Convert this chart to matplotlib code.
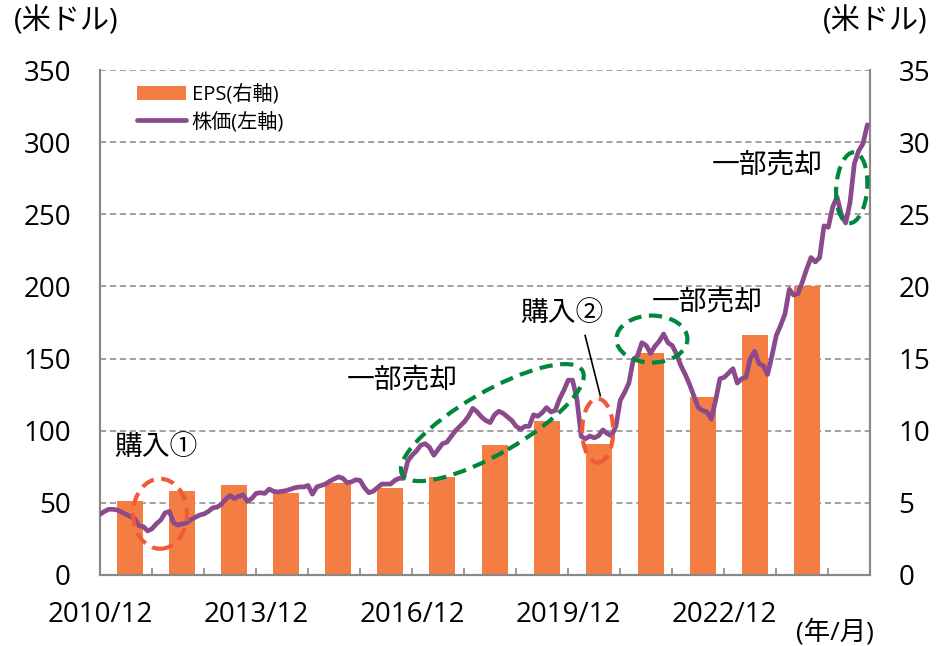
import matplotlib
matplotlib.use("Agg")
import matplotlib.pyplot as plt
from matplotlib.patches import Ellipse
from matplotlib.transforms import ScaledTranslation
import numpy as np

plt.rcParams['font.family'] = ['Open Sans', 'Noto Sans CJK JP', 'DejaVu Sans']

# --- data ---
# monthly share price (US$), 2010/12 .. 2025/09
price = [
    42, 44, 45.5, 45.5, 45, 43.5, 42, 40.5, 39, 34, 33.5, 30.5,
    32, 35.5, 38, 43, 44, 36, 34.5, 35.4, 36, 38.5, 40, 41.5,
    42.3, 44, 46.5, 47, 49, 52.5, 55, 53, 54.5, 55.5, 51, 53,
    56.5, 57, 56.5, 59.5, 58, 57.5, 58, 58.5, 59.5, 60.5, 61, 61,
    62, 56, 61, 62, 63, 65, 66.5, 68, 67, 64, 64.5, 66,
    65.5, 60.5, 57, 58, 60.5, 63, 63, 63, 65.5, 67, 67, 79,
    83, 86, 90, 91, 88.5, 83, 87, 91, 92, 96, 100, 103,
    106, 110, 115.5, 113, 109.5, 107, 105.6, 111, 113.5, 112, 109.5, 107,
    103, 101, 103, 103, 111, 110, 112.5, 116, 113, 114, 122, 128,
    135, 135, 122, 96, 94.4, 96.3, 95, 96.5, 100.5, 98, 96.5, 103,
    121, 126.5, 133, 149, 152, 161, 159, 153.5, 158.5, 162, 167, 161,
    159, 153, 145, 139, 132, 124, 116, 114, 113, 108, 121, 136,
    137, 140, 143, 133, 136, 137, 150, 155, 146.5, 145, 139, 152,
    166, 173, 181, 198, 194, 195, 203, 212, 220, 217, 220, 242,
    241, 255, 262, 250, 244, 258, 285, 294, 299, 312,
]
price_month = np.arange(len(price))  # months since 2010/12

eps_years = [2011, 2012, 2013, 2014, 2015, 2016, 2017,
             2018, 2019, 2020, 2021, 2022, 2023, 2024]
eps = [5.1, 5.8, 6.2, 5.7, 6.4, 6.0, 6.8, 9.0, 10.7, 9.1, 15.4, 12.3, 16.6, 20.0]
eps_month = [(y - 2011) * 12 + 7 for y in eps_years]

tick_labels = ['2010/12', '2013/12', '2016/12', '2019/12', '2022/12']

BAR = '#F47D43'
LINE = '#8B4A8B'
GREEN = '#00873C'
RED = '#F05A3C'
GRAY = '#888888'

fig = plt.figure(figsize=(9.48, 6.46), dpi=100)
ax = fig.add_axes([0.1055, 0.110, 0.8117, 0.7816])
ax2 = ax.twinx()

# bars + grid on the right axis (below), line on the left axis (above)
bars = ax2.bar(eps_month, eps, width=6, color=BAR, zorder=2, label='EPS(右軸)')
ax2.set_ylim(0, 35)
ax2.set_yticks(np.arange(0, 36, 5))
ax2.set_axisbelow(True)
ax2.yaxis.grid(True, linestyle=(0, (4, 2.5)), color=GRAY, linewidth=1.1)

ax.set_zorder(ax2.get_zorder() + 1)
ax.patch.set_visible(False)
line, = ax.plot(price_month, price, color=LINE, lw=3.4, solid_capstyle='round',
                solid_joinstyle='round', label='株価(左軸)', zorder=5)
ax.set_ylim(0, 350)
ax.set_yticks(np.arange(0, 351, 50))
ax.set_xlim(0, 177.5)
ax.set_xticks(np.arange(0, 145, 36))
ax.set_xticklabels(tick_labels)
ax.set_xticks(np.arange(0, 178, 12), minor=True)

for a in (ax, ax2):
    for s in a.spines.values():
        s.set_color(GRAY)
        s.set_linewidth(1.5)
    a.spines['top'].set_visible(False)
ax.tick_params(axis='y', length=0, pad=21, labelsize=20)
ax2.tick_params(axis='y', length=0, pad=21, labelsize=20)
ax.tick_params(axis='x', which='both', direction='in', length=5, color=GRAY,
               width=1.2, pad=19, labelsize=20)

ax.legend(handles=[bars, line], loc='upper left', frameon=False, fontsize=14.5,
          bbox_to_anchor=(0.03, 1.0), handlelength=2.4, handletextpad=0.3,
          labelspacing=0.35, borderaxespad=0.3)

# dashed ellipses (centre in data units, size in inches)
def ring(cx, cy, w, h, ang, color):
    tr = fig.dpi_scale_trans + ScaledTranslation(cx, cy, ax.transData)
    e = Ellipse((0, 0), w, h, angle=ang, transform=tr, fill=False,
                edgecolor=color, lw=3, linestyle=(0, (3.2, 1.8)), zorder=6,
                clip_on=False)
    ax.add_patch(e)

ring(13.85, 42.4, 0.54, 0.70, 0, RED)
ring(90.5, 105.6, 2.08, 0.62, 30, GREEN)
ring(114.8, 100, 0.31, 0.64, 0, RED)
ring(127.3, 163.5, 0.71, 0.47, 0, GREEN)
ring(173.4, 268.4, 0.31, 0.71, -4, GREEN)

kw = dict(fontsize=20, ha='center', va='center', zorder=7)
ax.text(12.9, 88, '購入①', **kw)
ax.text(69.7, 134.7, '一部売却', **kw)
ax.text(106.6, 181, '購入②', **kw)
ax.text(140, 189, '一部売却', **kw)
ax.text(154, 284, '一部売却', **kw)
ax.plot([111.9, 115.4], [166, 124.3], color='black', lw=1.2, zorder=7)

fig.text(66 / 948, 1 - 22 / 646, '(米ドル)', fontsize=21, ha='center', va='center')
fig.text(875 / 948, 1 - 22 / 646, '(米ドル)', fontsize=21, ha='center', va='center')
fig.text(835 / 948, 1 - 632 / 646, '(年/月)', fontsize=19, ha='center', va='center')

fig.savefig('out.png', dpi=100)
